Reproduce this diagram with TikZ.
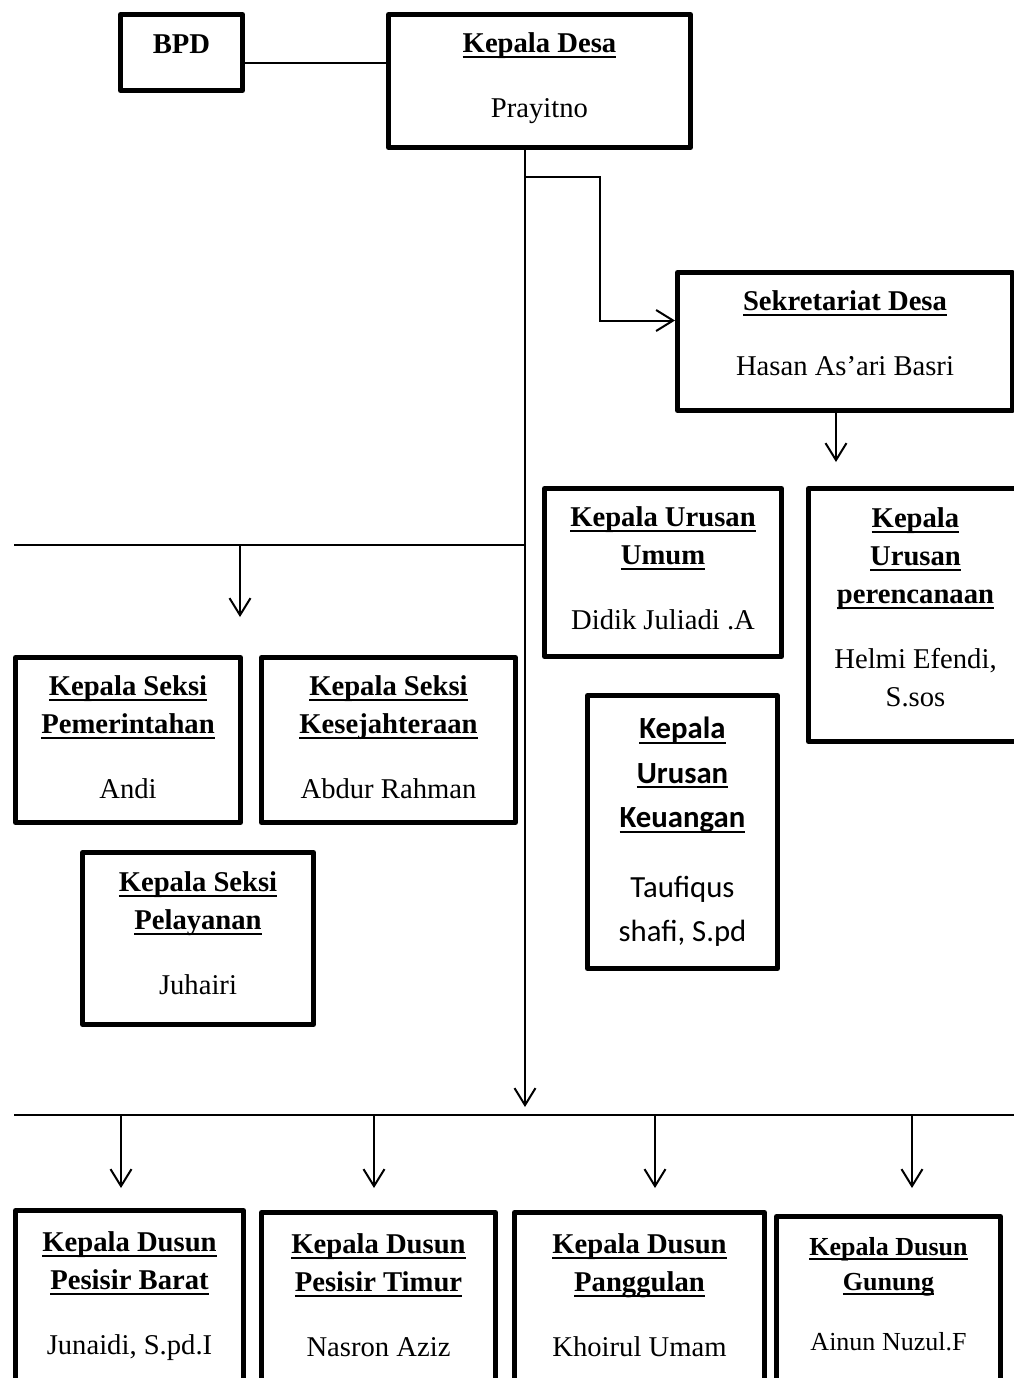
\documentclass[tikz,border=0pt]{standalone}
\usepackage{fontspec}
\setmainfont{Liberation Serif}
\newfontfamily\calfont{Carlito}
\usetikzlibrary{arrows.meta}

% underline at a fixed depth, descenders run through it
\newcommand{\uln}[1]{\setbox0\hbox{#1}\rlap{\rule[-3pt]{\wd0}{1.1pt}}\box0}
\newcommand{\jab}[1]{\uln{\textbf{#1}}}
% extra depth under the last line, lifts the text in its box
\newcommand{\angkat}[1]{\rule[-#1]{0pt}{0pt}}

\begin{document}
\begin{tikzpicture}[x=0.2mm, y=-0.2mm,
	kotak/.style={rectangle, draw, line width=1mm, line join=round, inner sep=0pt, align=center, anchor=north west, font=\fontsize{16.3}{21.6}\selectfont},
	garis/.style={line width=0.4mm},
	panah/.style={garis, -{Straight Barb[length=3.4mm, width=4.2mm]}}]
	\useasboundingbox (0,0) rectangle (1014,1378);

	% --- Kepala Desa & BPD ---
	\node[kotak, minimum width=24.4mm, minimum height=15.2mm, text depth=3.2mm] (bpd) at (118,12) {\textbf{BPD}};
	\node[kotak, minimum width=60.4mm, minimum height=26.6mm] (kades) at (386,12) {\jab{Kepala Desa}\\[5.4mm]Prayitno\angkat{2.3mm}};
	\draw[garis] ([yshift=-2mm]bpd.east) -- ([yshift=-2mm]bpd.east -| kades.west);

	% --- Sekretariat ---
	\node[kotak, minimum width=67mm, minimum height=27.6mm] (sekdes) at (675,270) {\jab{Sekretariat Desa}\\[5.4mm]Hasan As’ari Basri\angkat{3.4mm}};
	\node[kotak, minimum width=47.4mm, minimum height=33.6mm] (umum) at (542,486) {\jab{Kepala Urusan}\\\jab{Umum}\\[5.4mm]Didik Juliadi .A\angkat{1.6mm}};
	\node[kotak, minimum width=42.8mm, minimum height=50.6mm] (renc) at (806,486) {\jab{Kepala}\\\jab{Urusan}\\\jab{perencanaan}\\[5.4mm]Helmi Efendi,\\S.sos\angkat{3.2mm}};
	\node[kotak, minimum width=38mm, minimum height=54.6mm, font=\calfont\fontsize{17.5}{25.3}\selectfont] (keu) at (585,693) {\jab{Kepala}\\\jab{Urusan}\\\jab{Keuangan}\\[5.1mm]Taufiqus\\shafi, S.pd};

	% --- Seksi ---
	\node[kotak, minimum width=45mm, minimum height=33mm] (pem) at (13,655) {\jab{Kepala Seksi}\\\jab{Pemerintahan}\\[5.4mm]Andi\angkat{1.2mm}};
	\node[kotak, minimum width=50.8mm, minimum height=33mm] (kesej) at (259,655) {\jab{Kepala Seksi}\\\jab{Kesejahteraan}\\[5.4mm]Abdur Rahman\angkat{1.2mm}};
	\node[kotak, minimum width=46.2mm, minimum height=34.4mm] (pelay) at (80,850) {\jab{Kepala Seksi}\\\jab{Pelayanan}\\[5.4mm]Juhairi\angkat{2mm}};

	% --- Dusun ---
	\node[kotak, minimum width=45.6mm, minimum height=35.6mm] (dsn1) at (13,1208) {\jab{Kepala Dusun}\\\jab{Pesisir Barat}\\[5.4mm]Junaidi, S.pd.I\angkat{2.4mm}};
	\node[kotak, minimum width=46.8mm, minimum height=35.6mm] (dsn2) at (259,1210) {\jab{Kepala Dusun}\\\jab{Pesisir Timur}\\[5.4mm]Nasron Aziz\angkat{2.6mm}};
	\node[kotak, minimum width=50mm, minimum height=35.6mm] (dsn3) at (512,1210) {\jab{Kepala Dusun}\\\jab{Panggulan}\\[5.4mm]Khoirul Umam\angkat{2.6mm}};
	\node[kotak, minimum width=44.8mm, minimum height=35mm, font=\fontsize{14.8}{19.9}\selectfont] (dsn4) at (774,1214) {\jab{Kepala Dusun}\\\jab{Gunung}\\[5mm]Ainun Nuzul.F\angkat{4.2mm}};

	% --- garis komando ---
	\coordinate (tr) at (525,0);
	\coordinate (trend) at (525,1107);
	\draw[panah] (kades.south -| tr) -- (trend);

	\coordinate (brA) at (525,177);
	\coordinate (brB) at (600,177);
	\draw[panah] (brA) -- (brB) |- ([yshift=4.2mm]sekdes.west);

	\coordinate (sekend) at (836,462);
	\draw[panah] (sekdes.south -| sekend) -- (sekend);

	\coordinate (busS) at (14,545);
	\draw[garis] (busS) -- (busS -| tr);
	\coordinate (sA) at (240,545);
	\coordinate (sB) at (240,617);
	\draw[panah] (sA) -- (sB);

	\coordinate (busD) at (14,1115);
	\coordinate (busDr) at (1014,1115);
	\draw[garis] (busD) -- (busDr);
	\foreach \x/\n in {121/1, 374/2, 655/3, 912/4} {
		\coordinate (d\n) at (\x,1188);
		\draw[panah] (d\n |- busD) -- (d\n);
	}
\end{tikzpicture}
\end{document}
